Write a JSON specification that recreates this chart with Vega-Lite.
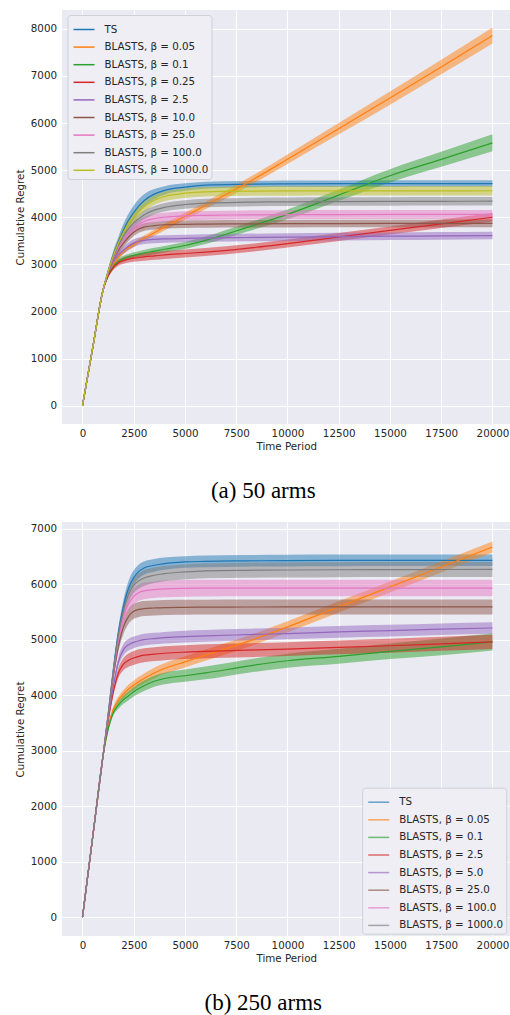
{
"$schema": "https://vega.github.io/schema/vega-lite/v6.json",
"background": "white",
"padding": {"left": 15, "top": 10, "right": 0, "bottom": 0},
"config": {
  "view": {"fill": "#EAEAF2", "stroke": null},
  "axis": {"domain": false, "ticks": false, "tickSize": 0, "grid": true, "gridColor": "#FFFFFF", "gridWidth": 1, "gridOpacity": 1,
    "labelFont": "DejaVu Sans", "labelFontSize": 10.3, "labelColor": "#262626",
    "titleFont": "DejaVu Sans", "titleFontSize": 10.3, "titleFontWeight": "normal", "titleColor": "#262626"},
  "axisX": {"labelPadding": 4, "titlePadding": 3},
  "axisY": {"labelPadding": 5.5, "titlePadding": 4.5},
  "legend": {"title": null, "orient": "none", "symbolType": "stroke", "symbolSize": 441, "symbolStrokeWidth": 1.5, "symbolOffset": 2,
    "labelFont": "DejaVu Sans", "labelFontSize": 10.3, "labelColor": "#262626", "labelOffset": 9, "labelLimit": 0,
    "padding": 3, "rowPadding": 0.6, "fillColor": "#EEEEF4", "strokeColor": "#CFCFD7", "cornerRadius": 3},
  "concat": {"spacing": 19}
},
"data": {"values": [
{"p":"a","s":"TS","t":0,"m":0,"lo":0,"hi":0},
{"p":"a","s":"TS","t":500,"m":1230,"lo":1222,"hi":1238},
{"p":"a","s":"TS","t":1000,"m":2450,"lo":2435,"hi":2465},
{"p":"a","s":"TS","t":1250,"m":2850,"lo":2800,"hi":2900},
{"p":"a","s":"TS","t":1500,"m":3200,"lo":3120,"hi":3280},
{"p":"a","s":"TS","t":1750,"m":3480,"lo":3380,"hi":3580},
{"p":"a","s":"TS","t":2000,"m":3730,"lo":3600,"hi":3860},
{"p":"a","s":"TS","t":2250,"m":3940,"lo":3800,"hi":4080},
{"p":"a","s":"TS","t":2500,"m":4100,"lo":3950,"hi":4250},
{"p":"a","s":"TS","t":2750,"m":4240,"lo":4095,"hi":4385},
{"p":"a","s":"TS","t":3000,"m":4350,"lo":4210,"hi":4490},
{"p":"a","s":"TS","t":3500,"m":4490,"lo":4380,"hi":4600},
{"p":"a","s":"TS","t":4000,"m":4570,"lo":4480,"hi":4660},
{"p":"a","s":"TS","t":5000,"m":4640,"lo":4560,"hi":4720},
{"p":"a","s":"TS","t":6000,"m":4680,"lo":4605,"hi":4755},
{"p":"a","s":"TS","t":8000,"m":4700,"lo":4630,"hi":4770},
{"p":"a","s":"TS","t":10000,"m":4710,"lo":4640,"hi":4780},
{"p":"a","s":"TS","t":12500,"m":4712,"lo":4642,"hi":4782},
{"p":"a","s":"TS","t":15000,"m":4714,"lo":4644,"hi":4784},
{"p":"a","s":"TS","t":17500,"m":4715,"lo":4645,"hi":4785},
{"p":"a","s":"TS","t":20000,"m":4715,"lo":4645,"hi":4785},

{"p":"a","s":"0.05","t":0,"m":0,"lo":0,"hi":0},
{"p":"a","s":"0.05","t":500,"m":1230,"lo":1222,"hi":1238},
{"p":"a","s":"0.05","t":1000,"m":2450,"lo":2435,"hi":2465},
{"p":"a","s":"0.05","t":1250,"m":2780,"lo":2745,"hi":2815},
{"p":"a","s":"0.05","t":1500,"m":2990,"lo":2945,"hi":3035},
{"p":"a","s":"0.05","t":1750,"m":3150,"lo":3100,"hi":3200},
{"p":"a","s":"0.05","t":2000,"m":3270,"lo":3220,"hi":3320},
{"p":"a","s":"0.05","t":2250,"m":3350,"lo":3300,"hi":3400},
{"p":"a","s":"0.05","t":2500,"m":3420,"lo":3365,"hi":3475},
{"p":"a","s":"0.05","t":2750,"m":3490,"lo":3435,"hi":3545},
{"p":"a","s":"0.05","t":3000,"m":3550,"lo":3490,"hi":3610},
{"p":"a","s":"0.05","t":3500,"m":3670,"lo":3605,"hi":3735},
{"p":"a","s":"0.05","t":4000,"m":3790,"lo":3720,"hi":3860},
{"p":"a","s":"0.05","t":5000,"m":4020,"lo":3945,"hi":4095},
{"p":"a","s":"0.05","t":6000,"m":4250,"lo":4170,"hi":4330},
{"p":"a","s":"0.05","t":8000,"m":4720,"lo":4630,"hi":4810},
{"p":"a","s":"0.05","t":10000,"m":5230,"lo":5130,"hi":5330},
{"p":"a","s":"0.05","t":12500,"m":5880,"lo":5760,"hi":6000},
{"p":"a","s":"0.05","t":15000,"m":6530,"lo":6390,"hi":6670},
{"p":"a","s":"0.05","t":17500,"m":7190,"lo":7035,"hi":7345},
{"p":"a","s":"0.05","t":20000,"m":7860,"lo":7690,"hi":8030},

{"p":"a","s":"0.1","t":0,"m":0,"lo":0,"hi":0},
{"p":"a","s":"0.1","t":500,"m":1230,"lo":1222,"hi":1238},
{"p":"a","s":"0.1","t":1000,"m":2450,"lo":2435,"hi":2465},
{"p":"a","s":"0.1","t":1250,"m":2760,"lo":2725,"hi":2795},
{"p":"a","s":"0.1","t":1500,"m":2950,"lo":2905,"hi":2995},
{"p":"a","s":"0.1","t":1750,"m":3060,"lo":3005,"hi":3115},
{"p":"a","s":"0.1","t":2000,"m":3120,"lo":3060,"hi":3180},
{"p":"a","s":"0.1","t":2250,"m":3160,"lo":3100,"hi":3220},
{"p":"a","s":"0.1","t":2500,"m":3190,"lo":3125,"hi":3255},
{"p":"a","s":"0.1","t":2750,"m":3215,"lo":3150,"hi":3280},
{"p":"a","s":"0.1","t":3000,"m":3240,"lo":3175,"hi":3305},
{"p":"a","s":"0.1","t":3500,"m":3280,"lo":3210,"hi":3350},
{"p":"a","s":"0.1","t":4000,"m":3320,"lo":3250,"hi":3390},
{"p":"a","s":"0.1","t":5000,"m":3400,"lo":3325,"hi":3475},
{"p":"a","s":"0.1","t":6000,"m":3510,"lo":3430,"hi":3590},
{"p":"a","s":"0.1","t":8000,"m":3780,"lo":3690,"hi":3870},
{"p":"a","s":"0.1","t":10000,"m":4060,"lo":3955,"hi":4165},
{"p":"a","s":"0.1","t":12500,"m":4470,"lo":4350,"hi":4590},
{"p":"a","s":"0.1","t":15000,"m":4880,"lo":4740,"hi":5020},
{"p":"a","s":"0.1","t":17500,"m":5230,"lo":5070,"hi":5390},
{"p":"a","s":"0.1","t":20000,"m":5580,"lo":5400,"hi":5760},

{"p":"a","s":"0.25","t":0,"m":0,"lo":0,"hi":0},
{"p":"a","s":"0.25","t":500,"m":1230,"lo":1222,"hi":1238},
{"p":"a","s":"0.25","t":1000,"m":2450,"lo":2435,"hi":2465},
{"p":"a","s":"0.25","t":1250,"m":2750,"lo":2715,"hi":2785},
{"p":"a","s":"0.25","t":1500,"m":2930,"lo":2880,"hi":2980},
{"p":"a","s":"0.25","t":1750,"m":3030,"lo":2970,"hi":3090},
{"p":"a","s":"0.25","t":2000,"m":3080,"lo":3015,"hi":3145},
{"p":"a","s":"0.25","t":2250,"m":3110,"lo":3040,"hi":3180},
{"p":"a","s":"0.25","t":2500,"m":3130,"lo":3055,"hi":3205},
{"p":"a","s":"0.25","t":2750,"m":3145,"lo":3065,"hi":3225},
{"p":"a","s":"0.25","t":3000,"m":3160,"lo":3075,"hi":3245},
{"p":"a","s":"0.25","t":3500,"m":3180,"lo":3095,"hi":3265},
{"p":"a","s":"0.25","t":4000,"m":3200,"lo":3115,"hi":3285},
{"p":"a","s":"0.25","t":5000,"m":3230,"lo":3145,"hi":3315},
{"p":"a","s":"0.25","t":6000,"m":3260,"lo":3175,"hi":3345},
{"p":"a","s":"0.25","t":8000,"m":3340,"lo":3255,"hi":3425},
{"p":"a","s":"0.25","t":10000,"m":3440,"lo":3355,"hi":3525},
{"p":"a","s":"0.25","t":12500,"m":3580,"lo":3495,"hi":3665},
{"p":"a","s":"0.25","t":15000,"m":3720,"lo":3635,"hi":3805},
{"p":"a","s":"0.25","t":17500,"m":3860,"lo":3770,"hi":3950},
{"p":"a","s":"0.25","t":20000,"m":4000,"lo":3910,"hi":4090},

{"p":"a","s":"2.5","t":0,"m":0,"lo":0,"hi":0},
{"p":"a","s":"2.5","t":500,"m":1230,"lo":1222,"hi":1238},
{"p":"a","s":"2.5","t":1000,"m":2450,"lo":2435,"hi":2465},
{"p":"a","s":"2.5","t":1250,"m":2800,"lo":2760,"hi":2840},
{"p":"a","s":"2.5","t":1500,"m":3050,"lo":2995,"hi":3105},
{"p":"a","s":"2.5","t":1750,"m":3200,"lo":3130,"hi":3270},
{"p":"a","s":"2.5","t":2000,"m":3300,"lo":3225,"hi":3375},
{"p":"a","s":"2.5","t":2250,"m":3390,"lo":3310,"hi":3470},
{"p":"a","s":"2.5","t":2500,"m":3450,"lo":3370,"hi":3530},
{"p":"a","s":"2.5","t":2750,"m":3490,"lo":3410,"hi":3570},
{"p":"a","s":"2.5","t":3000,"m":3510,"lo":3430,"hi":3590},
{"p":"a","s":"2.5","t":3500,"m":3530,"lo":3450,"hi":3610},
{"p":"a","s":"2.5","t":4000,"m":3540,"lo":3460,"hi":3620},
{"p":"a","s":"2.5","t":5000,"m":3550,"lo":3470,"hi":3630},
{"p":"a","s":"2.5","t":6000,"m":3558,"lo":3478,"hi":3638},
{"p":"a","s":"2.5","t":8000,"m":3570,"lo":3490,"hi":3650},
{"p":"a","s":"2.5","t":10000,"m":3578,"lo":3498,"hi":3658},
{"p":"a","s":"2.5","t":12500,"m":3588,"lo":3508,"hi":3668},
{"p":"a","s":"2.5","t":15000,"m":3597,"lo":3517,"hi":3677},
{"p":"a","s":"2.5","t":17500,"m":3604,"lo":3524,"hi":3684},
{"p":"a","s":"2.5","t":20000,"m":3610,"lo":3530,"hi":3690},

{"p":"a","s":"10.0","t":0,"m":0,"lo":0,"hi":0},
{"p":"a","s":"10.0","t":500,"m":1230,"lo":1222,"hi":1238},
{"p":"a","s":"10.0","t":1000,"m":2450,"lo":2435,"hi":2465},
{"p":"a","s":"10.0","t":1250,"m":2820,"lo":2780,"hi":2860},
{"p":"a","s":"10.0","t":1500,"m":3100,"lo":3040,"hi":3160},
{"p":"a","s":"10.0","t":1750,"m":3300,"lo":3225,"hi":3375},
{"p":"a","s":"10.0","t":2000,"m":3450,"lo":3370,"hi":3530},
{"p":"a","s":"10.0","t":2250,"m":3580,"lo":3500,"hi":3660},
{"p":"a","s":"10.0","t":2500,"m":3680,"lo":3600,"hi":3760},
{"p":"a","s":"10.0","t":2750,"m":3750,"lo":3670,"hi":3830},
{"p":"a","s":"10.0","t":3000,"m":3790,"lo":3710,"hi":3870},
{"p":"a","s":"10.0","t":3500,"m":3820,"lo":3740,"hi":3900},
{"p":"a","s":"10.0","t":4000,"m":3840,"lo":3760,"hi":3920},
{"p":"a","s":"10.0","t":5000,"m":3850,"lo":3770,"hi":3930},
{"p":"a","s":"10.0","t":6000,"m":3855,"lo":3775,"hi":3935},
{"p":"a","s":"10.0","t":8000,"m":3860,"lo":3780,"hi":3940},
{"p":"a","s":"10.0","t":10000,"m":3863,"lo":3783,"hi":3943},
{"p":"a","s":"10.0","t":12500,"m":3866,"lo":3786,"hi":3946},
{"p":"a","s":"10.0","t":15000,"m":3868,"lo":3788,"hi":3948},
{"p":"a","s":"10.0","t":17500,"m":3869,"lo":3789,"hi":3949},
{"p":"a","s":"10.0","t":20000,"m":3870,"lo":3790,"hi":3950},

{"p":"a","s":"25.0","t":0,"m":0,"lo":0,"hi":0},
{"p":"a","s":"25.0","t":500,"m":1230,"lo":1222,"hi":1238},
{"p":"a","s":"25.0","t":1000,"m":2450,"lo":2435,"hi":2465},
{"p":"a","s":"25.0","t":1250,"m":2830,"lo":2785,"hi":2875},
{"p":"a","s":"25.0","t":1500,"m":3120,"lo":3050,"hi":3190},
{"p":"a","s":"25.0","t":1750,"m":3350,"lo":3265,"hi":3435},
{"p":"a","s":"25.0","t":2000,"m":3520,"lo":3430,"hi":3610},
{"p":"a","s":"25.0","t":2250,"m":3660,"lo":3565,"hi":3755},
{"p":"a","s":"25.0","t":2500,"m":3770,"lo":3675,"hi":3865},
{"p":"a","s":"25.0","t":2750,"m":3850,"lo":3755,"hi":3945},
{"p":"a","s":"25.0","t":3000,"m":3910,"lo":3815,"hi":4005},
{"p":"a","s":"25.0","t":3500,"m":3970,"lo":3875,"hi":4065},
{"p":"a","s":"25.0","t":4000,"m":4000,"lo":3905,"hi":4095},
{"p":"a","s":"25.0","t":5000,"m":4030,"lo":3935,"hi":4125},
{"p":"a","s":"25.0","t":6000,"m":4040,"lo":3945,"hi":4135},
{"p":"a","s":"25.0","t":8000,"m":4050,"lo":3955,"hi":4145},
{"p":"a","s":"25.0","t":10000,"m":4054,"lo":3959,"hi":4149},
{"p":"a","s":"25.0","t":12500,"m":4057,"lo":3962,"hi":4152},
{"p":"a","s":"25.0","t":15000,"m":4059,"lo":3964,"hi":4154},
{"p":"a","s":"25.0","t":17500,"m":4060,"lo":3965,"hi":4155},
{"p":"a","s":"25.0","t":20000,"m":4060,"lo":3965,"hi":4155},

{"p":"a","s":"100.0","t":0,"m":0,"lo":0,"hi":0},
{"p":"a","s":"100.0","t":500,"m":1230,"lo":1222,"hi":1238},
{"p":"a","s":"100.0","t":1000,"m":2450,"lo":2435,"hi":2465},
{"p":"a","s":"100.0","t":1250,"m":2840,"lo":2795,"hi":2885},
{"p":"a","s":"100.0","t":1500,"m":3150,"lo":3080,"hi":3220},
{"p":"a","s":"100.0","t":1750,"m":3400,"lo":3310,"hi":3490},
{"p":"a","s":"100.0","t":2000,"m":3600,"lo":3500,"hi":3700},
{"p":"a","s":"100.0","t":2250,"m":3760,"lo":3660,"hi":3860},
{"p":"a","s":"100.0","t":2500,"m":3880,"lo":3780,"hi":3980},
{"p":"a","s":"100.0","t":2750,"m":3970,"lo":3875,"hi":4065},
{"p":"a","s":"100.0","t":3000,"m":4050,"lo":3955,"hi":4145},
{"p":"a","s":"100.0","t":3500,"m":4150,"lo":4060,"hi":4240},
{"p":"a","s":"100.0","t":4000,"m":4210,"lo":4120,"hi":4300},
{"p":"a","s":"100.0","t":5000,"m":4270,"lo":4180,"hi":4360},
{"p":"a","s":"100.0","t":6000,"m":4300,"lo":4210,"hi":4390},
{"p":"a","s":"100.0","t":8000,"m":4320,"lo":4230,"hi":4410},
{"p":"a","s":"100.0","t":10000,"m":4328,"lo":4238,"hi":4418},
{"p":"a","s":"100.0","t":12500,"m":4333,"lo":4243,"hi":4423},
{"p":"a","s":"100.0","t":15000,"m":4336,"lo":4246,"hi":4426},
{"p":"a","s":"100.0","t":17500,"m":4338,"lo":4248,"hi":4428},
{"p":"a","s":"100.0","t":20000,"m":4340,"lo":4250,"hi":4430},

{"p":"a","s":"1000.0","t":0,"m":0,"lo":0,"hi":0},
{"p":"a","s":"1000.0","t":500,"m":1230,"lo":1222,"hi":1238},
{"p":"a","s":"1000.0","t":1000,"m":2450,"lo":2435,"hi":2465},
{"p":"a","s":"1000.0","t":1250,"m":2850,"lo":2800,"hi":2900},
{"p":"a","s":"1000.0","t":1500,"m":3180,"lo":3100,"hi":3260},
{"p":"a","s":"1000.0","t":1750,"m":3450,"lo":3350,"hi":3550},
{"p":"a","s":"1000.0","t":2000,"m":3680,"lo":3570,"hi":3790},
{"p":"a","s":"1000.0","t":2250,"m":3860,"lo":3745,"hi":3975},
{"p":"a","s":"1000.0","t":2500,"m":4000,"lo":3885,"hi":4115},
{"p":"a","s":"1000.0","t":2750,"m":4120,"lo":4010,"hi":4230},
{"p":"a","s":"1000.0","t":3000,"m":4220,"lo":4115,"hi":4325},
{"p":"a","s":"1000.0","t":3500,"m":4360,"lo":4260,"hi":4460},
{"p":"a","s":"1000.0","t":4000,"m":4440,"lo":4340,"hi":4540},
{"p":"a","s":"1000.0","t":5000,"m":4510,"lo":4410,"hi":4610},
{"p":"a","s":"1000.0","t":6000,"m":4540,"lo":4440,"hi":4640},
{"p":"a","s":"1000.0","t":8000,"m":4555,"lo":4455,"hi":4655},
{"p":"a","s":"1000.0","t":10000,"m":4558,"lo":4458,"hi":4658},
{"p":"a","s":"1000.0","t":12500,"m":4560,"lo":4460,"hi":4660},
{"p":"a","s":"1000.0","t":15000,"m":4560,"lo":4460,"hi":4660},
{"p":"a","s":"1000.0","t":17500,"m":4561,"lo":4461,"hi":4661},
{"p":"a","s":"1000.0","t":20000,"m":4562,"lo":4462,"hi":4662},

{"p":"b","s":"TS","t":0,"m":0,"lo":0,"hi":0},
{"p":"b","s":"TS","t":500,"m":1450,"lo":1442,"hi":1458},
{"p":"b","s":"TS","t":1000,"m":2900,"lo":2885,"hi":2915},
{"p":"b","s":"TS","t":1250,"m":3650,"lo":3620,"hi":3680},
{"p":"b","s":"TS","t":1500,"m":4450,"lo":4390,"hi":4510},
{"p":"b","s":"TS","t":1750,"m":5130,"lo":5040,"hi":5220},
{"p":"b","s":"TS","t":2000,"m":5600,"lo":5480,"hi":5720},
{"p":"b","s":"TS","t":2250,"m":5930,"lo":5800,"hi":6060},
{"p":"b","s":"TS","t":2500,"m":6120,"lo":5990,"hi":6250},
{"p":"b","s":"TS","t":2750,"m":6230,"lo":6105,"hi":6355},
{"p":"b","s":"TS","t":3000,"m":6290,"lo":6170,"hi":6410},
{"p":"b","s":"TS","t":3500,"m":6340,"lo":6225,"hi":6455},
{"p":"b","s":"TS","t":4000,"m":6370,"lo":6260,"hi":6480},
{"p":"b","s":"TS","t":5000,"m":6400,"lo":6295,"hi":6505},
{"p":"b","s":"TS","t":6000,"m":6410,"lo":6305,"hi":6515},
{"p":"b","s":"TS","t":8000,"m":6420,"lo":6315,"hi":6525},
{"p":"b","s":"TS","t":10000,"m":6425,"lo":6320,"hi":6530},
{"p":"b","s":"TS","t":12500,"m":6428,"lo":6323,"hi":6533},
{"p":"b","s":"TS","t":15000,"m":6430,"lo":6325,"hi":6535},
{"p":"b","s":"TS","t":17500,"m":6430,"lo":6325,"hi":6535},
{"p":"b","s":"TS","t":20000,"m":6430,"lo":6325,"hi":6535},

{"p":"b","s":"0.05","t":0,"m":0,"lo":0,"hi":0},
{"p":"b","s":"0.05","t":500,"m":1450,"lo":1442,"hi":1458},
{"p":"b","s":"0.05","t":1000,"m":2900,"lo":2885,"hi":2915},
{"p":"b","s":"0.05","t":1250,"m":3420,"lo":3390,"hi":3450},
{"p":"b","s":"0.05","t":1500,"m":3740,"lo":3690,"hi":3790},
{"p":"b","s":"0.05","t":1750,"m":3910,"lo":3845,"hi":3975},
{"p":"b","s":"0.05","t":2000,"m":4020,"lo":3945,"hi":4095},
{"p":"b","s":"0.05","t":2250,"m":4110,"lo":4030,"hi":4190},
{"p":"b","s":"0.05","t":2500,"m":4180,"lo":4095,"hi":4265},
{"p":"b","s":"0.05","t":2750,"m":4245,"lo":4160,"hi":4330},
{"p":"b","s":"0.05","t":3000,"m":4300,"lo":4210,"hi":4390},
{"p":"b","s":"0.05","t":3500,"m":4400,"lo":4305,"hi":4495},
{"p":"b","s":"0.05","t":4000,"m":4480,"lo":4385,"hi":4575},
{"p":"b","s":"0.05","t":5000,"m":4600,"lo":4500,"hi":4700},
{"p":"b","s":"0.05","t":6000,"m":4720,"lo":4620,"hi":4820},
{"p":"b","s":"0.05","t":8000,"m":4960,"lo":4860,"hi":5060},
{"p":"b","s":"0.05","t":10000,"m":5230,"lo":5130,"hi":5330},
{"p":"b","s":"0.05","t":12500,"m":5590,"lo":5490,"hi":5690},
{"p":"b","s":"0.05","t":15000,"m":5950,"lo":5850,"hi":6050},
{"p":"b","s":"0.05","t":17500,"m":6310,"lo":6210,"hi":6410},
{"p":"b","s":"0.05","t":20000,"m":6670,"lo":6570,"hi":6770},

{"p":"b","s":"0.1","t":0,"m":0,"lo":0,"hi":0},
{"p":"b","s":"0.1","t":500,"m":1450,"lo":1442,"hi":1458},
{"p":"b","s":"0.1","t":1000,"m":2900,"lo":2885,"hi":2915},
{"p":"b","s":"0.1","t":1250,"m":3380,"lo":3350,"hi":3410},
{"p":"b","s":"0.1","t":1500,"m":3680,"lo":3630,"hi":3730},
{"p":"b","s":"0.1","t":1750,"m":3820,"lo":3755,"hi":3885},
{"p":"b","s":"0.1","t":2000,"m":3920,"lo":3845,"hi":3995},
{"p":"b","s":"0.1","t":2250,"m":3990,"lo":3910,"hi":4070},
{"p":"b","s":"0.1","t":2500,"m":4060,"lo":3975,"hi":4145},
{"p":"b","s":"0.1","t":2750,"m":4120,"lo":4030,"hi":4210},
{"p":"b","s":"0.1","t":3000,"m":4170,"lo":4075,"hi":4265},
{"p":"b","s":"0.1","t":3500,"m":4250,"lo":4150,"hi":4350},
{"p":"b","s":"0.1","t":4000,"m":4300,"lo":4195,"hi":4405},
{"p":"b","s":"0.1","t":5000,"m":4350,"lo":4240,"hi":4460},
{"p":"b","s":"0.1","t":6000,"m":4400,"lo":4285,"hi":4515},
{"p":"b","s":"0.1","t":8000,"m":4520,"lo":4400,"hi":4640},
{"p":"b","s":"0.1","t":10000,"m":4620,"lo":4495,"hi":4745},
{"p":"b","s":"0.1","t":12500,"m":4700,"lo":4565,"hi":4835},
{"p":"b","s":"0.1","t":15000,"m":4790,"lo":4650,"hi":4930},
{"p":"b","s":"0.1","t":17500,"m":4870,"lo":4720,"hi":5020},
{"p":"b","s":"0.1","t":20000,"m":4960,"lo":4805,"hi":5115},

{"p":"b","s":"2.5","t":0,"m":0,"lo":0,"hi":0},
{"p":"b","s":"2.5","t":500,"m":1450,"lo":1442,"hi":1458},
{"p":"b","s":"2.5","t":1000,"m":2900,"lo":2885,"hi":2915},
{"p":"b","s":"2.5","t":1250,"m":3530,"lo":3500,"hi":3560},
{"p":"b","s":"2.5","t":1500,"m":4050,"lo":3990,"hi":4110},
{"p":"b","s":"2.5","t":1750,"m":4400,"lo":4310,"hi":4490},
{"p":"b","s":"2.5","t":2000,"m":4560,"lo":4450,"hi":4670},
{"p":"b","s":"2.5","t":2250,"m":4630,"lo":4510,"hi":4750},
{"p":"b","s":"2.5","t":2500,"m":4670,"lo":4545,"hi":4795},
{"p":"b","s":"2.5","t":2750,"m":4700,"lo":4575,"hi":4825},
{"p":"b","s":"2.5","t":3000,"m":4720,"lo":4595,"hi":4845},
{"p":"b","s":"2.5","t":3500,"m":4740,"lo":4615,"hi":4865},
{"p":"b","s":"2.5","t":4000,"m":4755,"lo":4630,"hi":4880},
{"p":"b","s":"2.5","t":5000,"m":4775,"lo":4650,"hi":4900},
{"p":"b","s":"2.5","t":6000,"m":4790,"lo":4665,"hi":4915},
{"p":"b","s":"2.5","t":8000,"m":4810,"lo":4685,"hi":4935},
{"p":"b","s":"2.5","t":10000,"m":4830,"lo":4705,"hi":4955},
{"p":"b","s":"2.5","t":12500,"m":4860,"lo":4735,"hi":4985},
{"p":"b","s":"2.5","t":15000,"m":4890,"lo":4765,"hi":5015},
{"p":"b","s":"2.5","t":17500,"m":4925,"lo":4798,"hi":5052},
{"p":"b","s":"2.5","t":20000,"m":4960,"lo":4830,"hi":5090},

{"p":"b","s":"5.0","t":0,"m":0,"lo":0,"hi":0},
{"p":"b","s":"5.0","t":500,"m":1450,"lo":1442,"hi":1458},
{"p":"b","s":"5.0","t":1000,"m":2900,"lo":2885,"hi":2915},
{"p":"b","s":"5.0","t":1250,"m":3560,"lo":3530,"hi":3590},
{"p":"b","s":"5.0","t":1500,"m":4150,"lo":4090,"hi":4210},
{"p":"b","s":"5.0","t":1750,"m":4600,"lo":4515,"hi":4685},
{"p":"b","s":"5.0","t":2000,"m":4820,"lo":4720,"hi":4920},
{"p":"b","s":"5.0","t":2250,"m":4910,"lo":4805,"hi":5015},
{"p":"b","s":"5.0","t":2500,"m":4950,"lo":4845,"hi":5055},
{"p":"b","s":"5.0","t":2750,"m":4980,"lo":4875,"hi":5085},
{"p":"b","s":"5.0","t":3000,"m":5000,"lo":4895,"hi":5105},
{"p":"b","s":"5.0","t":3500,"m":5020,"lo":4915,"hi":5125},
{"p":"b","s":"5.0","t":4000,"m":5035,"lo":4930,"hi":5140},
{"p":"b","s":"5.0","t":5000,"m":5055,"lo":4950,"hi":5160},
{"p":"b","s":"5.0","t":6000,"m":5068,"lo":4963,"hi":5173},
{"p":"b","s":"5.0","t":8000,"m":5090,"lo":4985,"hi":5195},
{"p":"b","s":"5.0","t":10000,"m":5110,"lo":5005,"hi":5215},
{"p":"b","s":"5.0","t":12500,"m":5140,"lo":5035,"hi":5245},
{"p":"b","s":"5.0","t":15000,"m":5162,"lo":5057,"hi":5267},
{"p":"b","s":"5.0","t":17500,"m":5188,"lo":5083,"hi":5293},
{"p":"b","s":"5.0","t":20000,"m":5210,"lo":5105,"hi":5315},

{"p":"b","s":"25.0","t":0,"m":0,"lo":0,"hi":0},
{"p":"b","s":"25.0","t":500,"m":1450,"lo":1442,"hi":1458},
{"p":"b","s":"25.0","t":1000,"m":2900,"lo":2885,"hi":2915},
{"p":"b","s":"25.0","t":1250,"m":3610,"lo":3580,"hi":3640},
{"p":"b","s":"25.0","t":1500,"m":4320,"lo":4260,"hi":4380},
{"p":"b","s":"25.0","t":1750,"m":4880,"lo":4780,"hi":4980},
{"p":"b","s":"25.0","t":2000,"m":5230,"lo":5105,"hi":5355},
{"p":"b","s":"25.0","t":2250,"m":5420,"lo":5285,"hi":5555},
{"p":"b","s":"25.0","t":2500,"m":5510,"lo":5375,"hi":5645},
{"p":"b","s":"25.0","t":2750,"m":5545,"lo":5410,"hi":5680},
{"p":"b","s":"25.0","t":3000,"m":5560,"lo":5425,"hi":5695},
{"p":"b","s":"25.0","t":3500,"m":5570,"lo":5435,"hi":5705},
{"p":"b","s":"25.0","t":4000,"m":5578,"lo":5443,"hi":5713},
{"p":"b","s":"25.0","t":5000,"m":5583,"lo":5448,"hi":5718},
{"p":"b","s":"25.0","t":6000,"m":5586,"lo":5451,"hi":5721},
{"p":"b","s":"25.0","t":8000,"m":5588,"lo":5453,"hi":5723},
{"p":"b","s":"25.0","t":10000,"m":5590,"lo":5455,"hi":5725},
{"p":"b","s":"25.0","t":12500,"m":5590,"lo":5455,"hi":5725},
{"p":"b","s":"25.0","t":15000,"m":5590,"lo":5455,"hi":5725},
{"p":"b","s":"25.0","t":17500,"m":5590,"lo":5455,"hi":5725},
{"p":"b","s":"25.0","t":20000,"m":5590,"lo":5455,"hi":5725},

{"p":"b","s":"100.0","t":0,"m":0,"lo":0,"hi":0},
{"p":"b","s":"100.0","t":500,"m":1450,"lo":1442,"hi":1458},
{"p":"b","s":"100.0","t":1000,"m":2900,"lo":2885,"hi":2915},
{"p":"b","s":"100.0","t":1250,"m":3630,"lo":3600,"hi":3660},
{"p":"b","s":"100.0","t":1500,"m":4380,"lo":4320,"hi":4440},
{"p":"b","s":"100.0","t":1750,"m":5000,"lo":4900,"hi":5100},
{"p":"b","s":"100.0","t":2000,"m":5400,"lo":5270,"hi":5530},
{"p":"b","s":"100.0","t":2250,"m":5650,"lo":5505,"hi":5795},
{"p":"b","s":"100.0","t":2500,"m":5780,"lo":5630,"hi":5930},
{"p":"b","s":"100.0","t":2750,"m":5850,"lo":5700,"hi":6000},
{"p":"b","s":"100.0","t":3000,"m":5880,"lo":5730,"hi":6030},
{"p":"b","s":"100.0","t":3500,"m":5900,"lo":5750,"hi":6050},
{"p":"b","s":"100.0","t":4000,"m":5915,"lo":5765,"hi":6065},
{"p":"b","s":"100.0","t":5000,"m":5925,"lo":5775,"hi":6075},
{"p":"b","s":"100.0","t":6000,"m":5928,"lo":5778,"hi":6078},
{"p":"b","s":"100.0","t":8000,"m":5930,"lo":5780,"hi":6080},
{"p":"b","s":"100.0","t":10000,"m":5930,"lo":5780,"hi":6080},
{"p":"b","s":"100.0","t":12500,"m":5930,"lo":5780,"hi":6080},
{"p":"b","s":"100.0","t":15000,"m":5930,"lo":5780,"hi":6080},
{"p":"b","s":"100.0","t":17500,"m":5930,"lo":5780,"hi":6080},
{"p":"b","s":"100.0","t":20000,"m":5930,"lo":5780,"hi":6080},

{"p":"b","s":"1000.0","t":0,"m":0,"lo":0,"hi":0},
{"p":"b","s":"1000.0","t":500,"m":1450,"lo":1442,"hi":1458},
{"p":"b","s":"1000.0","t":1000,"m":2900,"lo":2885,"hi":2915},
{"p":"b","s":"1000.0","t":1250,"m":3640,"lo":3610,"hi":3670},
{"p":"b","s":"1000.0","t":1500,"m":4420,"lo":4360,"hi":4480},
{"p":"b","s":"1000.0","t":1750,"m":5080,"lo":4990,"hi":5170},
{"p":"b","s":"1000.0","t":2000,"m":5530,"lo":5410,"hi":5650},
{"p":"b","s":"1000.0","t":2250,"m":5820,"lo":5685,"hi":5955},
{"p":"b","s":"1000.0","t":2500,"m":5980,"lo":5840,"hi":6120},
{"p":"b","s":"1000.0","t":2750,"m":6060,"lo":5920,"hi":6200},
{"p":"b","s":"1000.0","t":3000,"m":6110,"lo":5970,"hi":6250},
{"p":"b","s":"1000.0","t":3500,"m":6160,"lo":6022,"hi":6298},
{"p":"b","s":"1000.0","t":4000,"m":6190,"lo":6054,"hi":6326},
{"p":"b","s":"1000.0","t":5000,"m":6220,"lo":6085,"hi":6355},
{"p":"b","s":"1000.0","t":6000,"m":6240,"lo":6105,"hi":6375},
{"p":"b","s":"1000.0","t":8000,"m":6250,"lo":6115,"hi":6385},
{"p":"b","s":"1000.0","t":10000,"m":6255,"lo":6120,"hi":6390},
{"p":"b","s":"1000.0","t":12500,"m":6260,"lo":6125,"hi":6395},
{"p":"b","s":"1000.0","t":15000,"m":6262,"lo":6127,"hi":6397},
{"p":"b","s":"1000.0","t":17500,"m":6264,"lo":6129,"hi":6399},
{"p":"b","s":"1000.0","t":20000,"m":6265,"lo":6130,"hi":6400}
]},
"resolve": {"scale": {"color": "independent", "y": "independent"}, "legend": {"color": "independent"}},
"vconcat": [
  {
    "width": 448.5, "height": 414,
    "title": {"text": "(a) 50 arms", "orient": "bottom", "anchor": "middle", "font": "Liberation Serif", "fontSize": 23, "fontWeight": "normal", "color": "#000000", "dx": -23, "offset": 28},
    "transform": [{"filter": "datum.p == 'a'"}],
    "encoding": {
      "x": {"field": "t", "type": "quantitative", "scale": {"domain": [-1000, 20880], "nice": false, "zero": false},
        "axis": {"title": "Time Period", "values": [0, 2500, 5000, 7500, 10000, 12500, 15000, 17500, 20000], "format": "d"}},
      "color": {"field": "s", "type": "nominal",
        "scale": {"domain": ["TS", "0.05", "0.1", "0.25", "2.5", "10.0", "25.0", "100.0", "1000.0"],
                  "range": ["#1f77b4", "#ff7f0e", "#2ca02c", "#d62728", "#9467bd", "#8c564b", "#e377c2", "#7f7f7f", "#bcbd22"]},
        "legend": {"legendX": 5.5, "legendY": 5, "symbolOpacity": 1,
          "labelExpr": "datum.label == 'TS' ? 'TS' : 'BLASTS, β = ' + datum.label"}}
    },
    "layer": [
      {"mark": {"type": "area", "opacity": 0.5, "interpolate": "monotone"},
       "encoding": {"y": {"field": "lo", "type": "quantitative", "scale": {"domain": [-390, 8400], "nice": false, "zero": false},
          "axis": {"title": "Cumulative Regret", "values": [0, 1000, 2000, 3000, 4000, 5000, 6000, 7000, 8000], "format": "d"}},
         "y2": {"field": "hi"}}},
      {"mark": {"type": "line", "strokeWidth": 1.2, "interpolate": "monotone"},
       "encoding": {"y": {"field": "m", "type": "quantitative"}}}
    ]
  },
  {
    "width": 448.5, "height": 414,
    "title": {"text": "(b) 250 arms", "orient": "bottom", "anchor": "middle", "font": "Liberation Serif", "fontSize": 23, "fontWeight": "normal", "color": "#000000", "dx": -23, "offset": 28},
    "transform": [{"filter": "datum.p == 'b'"}],
    "encoding": {
      "x": {"field": "t", "type": "quantitative", "scale": {"domain": [-1000, 20880], "nice": false, "zero": false},
        "axis": {"title": "Time Period", "values": [0, 2500, 5000, 7500, 10000, 12500, 15000, 17500, 20000], "format": "d"}},
      "color": {"field": "s", "type": "nominal",
        "scale": {"domain": ["TS", "0.05", "0.1", "2.5", "5.0", "25.0", "100.0", "1000.0"],
                  "range": ["#1f77b4", "#ff7f0e", "#2ca02c", "#d62728", "#9467bd", "#8c564b", "#e377c2", "#7f7f7f"]},
        "legend": {"legendX": 300.2, "legendY": 265.7, "symbolOpacity": 0.65,
          "labelExpr": "datum.label == 'TS' ? 'TS' : 'BLASTS, β = ' + datum.label"}}
    },
    "layer": [
      {"mark": {"type": "area", "opacity": 0.5, "interpolate": "monotone"},
       "encoding": {"y": {"field": "lo", "type": "quantitative", "scale": {"domain": [-340, 7120], "nice": false, "zero": false},
          "axis": {"title": "Cumulative Regret", "values": [0, 1000, 2000, 3000, 4000, 5000, 6000, 7000], "format": "d"}},
         "y2": {"field": "hi"}}},
      {"mark": {"type": "line", "strokeWidth": 1.2, "interpolate": "monotone"},
       "encoding": {"y": {"field": "m", "type": "quantitative"}}}
    ]
  }
]
}
